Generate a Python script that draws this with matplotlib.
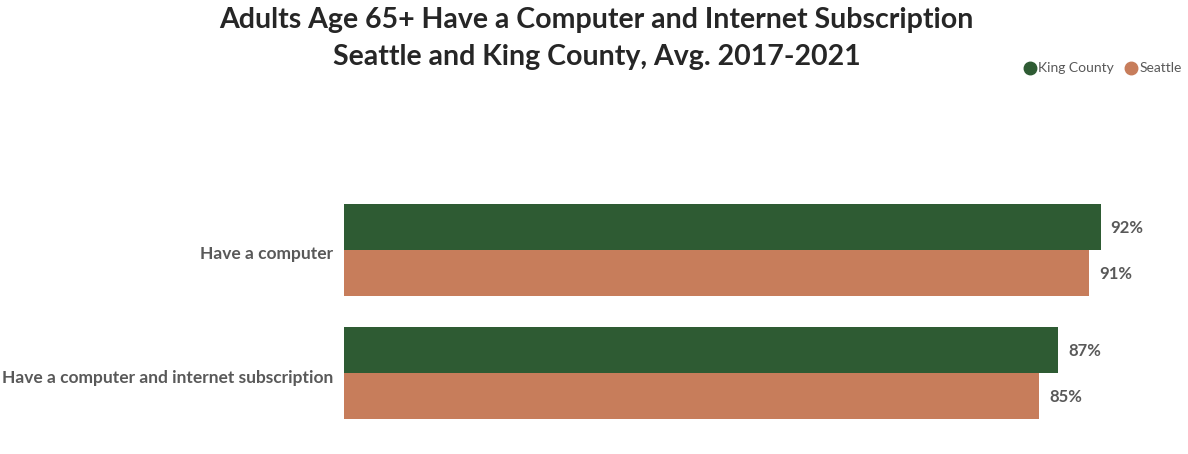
import matplotlib.pyplot as plt
import matplotlib.transforms as mtransforms
from matplotlib.lines import Line2D
import numpy as np

plt.rcParams['font.family'] = ['Lato', 'DejaVu Sans']

categories = ['Have a computer', 'Have a computer and internet subscription']
king_county = [92.3, 87.1]
seattle = [90.9, 84.8]

green = '#2E5B33'
orange = '#C77D5B'
grey = '#595959'

fig = plt.figure(figsize=(11.88, 4.54), dpi=100)
ax = fig.add_axes([344 / 1188, 1 - 434.5 / 454, 820 / 1188, 246 / 454])

y = np.arange(len(categories))
h = 0.378
b1 = ax.barh(y - h / 2, king_county, height=h, color=green)
b2 = ax.barh(y + h / 2, seattle, height=h, color=orange)

for bars, vals in [(b1, king_county), (b2, seattle)]:
    for bar, v in zip(bars, vals):
        ax.text(v + 1.2, bar.get_y() + bar.get_height() / 2 + 0.01, f'{round(v)}%',
                va='center', ha='left', fontsize=12, fontweight='bold', color=grey)

ax.set_xlim(0, 100)
ax.set_ylim(1.5, -0.5)
ax.set_yticks(y)
ax.set_yticklabels(categories, fontsize=12.5, fontweight='bold', color=grey)
ax.tick_params(axis='y', length=0, pad=8)
# nudge the category labels down a little
shift = mtransforms.ScaledTranslation(0, -3 / 100, fig.dpi_scale_trans)
for lab in ax.get_yticklabels():
    lab.set_transform(lab.get_transform() + shift)
ax.set_xticks([])
for s in ax.spines.values():
    s.set_visible(False)

fig.text(0.502, 1 - 7 / 454,
         'Adults Age 65+ Have a Computer and Internet Subscription\nSeattle and King County, Avg. 2017-2021',
         ha='center', va='top', fontsize=20.5, fontweight='bold', color='#262626', linespacing=1.5)

handles = [Line2D([], [], marker='o', linestyle='', markersize=9, color=green, label='King County'),
           Line2D([], [], marker='o', linestyle='', markersize=9, color=orange, label='Seattle')]
fig.legend(handles=handles, loc='center right', bbox_to_anchor=(1.005, 1 - 68.5 / 454),
           ncol=2, frameon=False, fontsize=10, handletextpad=0.0, columnspacing=0.6,
           handlelength=1.2, labelcolor=grey)

fig.savefig('out.png', dpi=100)
